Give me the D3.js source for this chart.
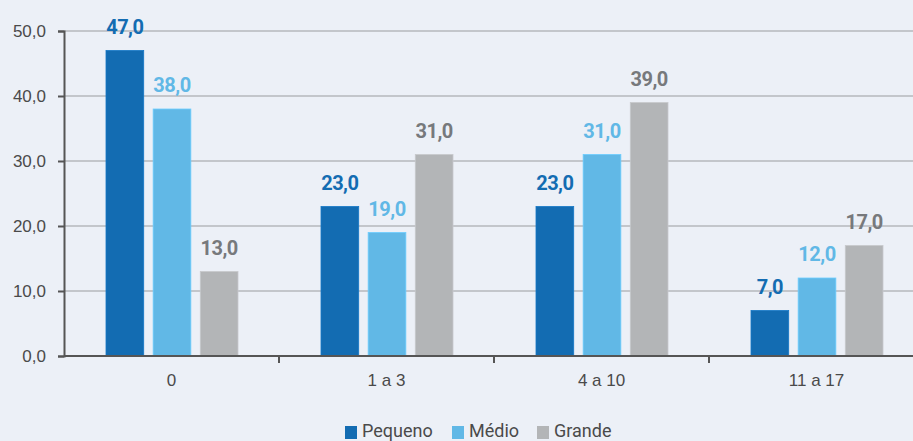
<!DOCTYPE html>
<html><head><meta charset="utf-8">
<script src="https://cdn.jsdelivr.net/npm/d3@7"></script>
<style>
html,body{margin:0;padding:0;background:#ecf0f7;}
svg{display:block;font-family:"Roboto","DejaVu Sans",sans-serif;}
</style></head><body>
<svg id="c" width="913" height="441"></svg>
<script>
const categories = ["0", "1 a 3", "4 a 10", "11 a 17"];
const seriesNames = ["Pequeno", "Médio", "Grande"];
const pequeno = [47, 23, 23, 7];
const medio = [38, 19, 31, 12];
const grande = [13, 31, 39, 17];
const yTicks = [0, 10, 20, 30, 40, 50];
const colors = ["#136cb2", "#61b8e6", "#b3b5b7"];
const labelColors = ["#136cb2", "#61b8e6", "#77797c"];

const seriesValues = [pequeno, medio, grande];
const svg = d3.select("#c");
const x0 = d3.scaleBand().domain(categories).range([64, 924]).paddingInner(0).paddingOuter(0);
const x1 = d3.scaleBand().domain(seriesNames).range([42, 174]).paddingInner(0.2);
const y = d3.scaleLinear().domain([0, 50]).range([356, 31]);
const fmt = v => d3.format(".1f")(v).replace(".", ",");

// gridlines
svg.append("g").selectAll("line").data(yTicks.filter(d => d > 0)).join("line")
  .attr("x1", 64).attr("x2", 913).attr("y1", d => y(d)).attr("y2", d => y(d))
  .attr("stroke", "#9a9c9f").attr("stroke-width", 1);

// bars
const g = svg.append("g");
categories.forEach((c, ci) => {
  seriesNames.forEach((s, si) => {
    const v = seriesValues[si][ci];
    g.append("rect")
      .attr("x", x0(c) + x1(s)).attr("width", x1.bandwidth())
      .attr("y", y(v)).attr("height", y(0) - y(v))
      .attr("fill", colors[si]).attr("stroke", d3.color(colors[si]).brighter(0.3)).attr("stroke-width", 0.8);
    g.append("text")
      .attr("x", x0(c) + x1(s) + x1.bandwidth() / 2).attr("y", y(v) - 17)
      .attr("text-anchor", "middle").attr("font-size", 20).attr("font-weight", "bold")
      .attr("letter-spacing", -0.5)
      .attr("fill", labelColors[si]).text(fmt(v));
  });
});

// y axis
const yAxis = d3.axisLeft(y).tickValues(yTicks).tickFormat(fmt).tickSize(6).tickPadding(12);
const ya = svg.append("g").attr("transform", "translate(64,0)").call(yAxis);
ya.select(".domain").attr("stroke", "#555").attr("stroke-width", 2);
ya.selectAll(".tick line").attr("stroke", "#555").attr("stroke-width", 2);
ya.selectAll(".tick text").attr("font-size", 17).attr("fill", "#4a4a4a").attr("font-family", null);

// x axis
const xa = svg.append("g").attr("transform", "translate(0,356)")
  .call(d3.axisBottom(x0).tickSize(0).tickPadding(18));
xa.select(".domain").remove();
xa.append("line").attr("x1", 64).attr("x2", 913).attr("stroke", "#555").attr("stroke-width", 2);
xa.selectAll(".tick text").attr("font-size", 17).attr("fill", "#4a4a4a").attr("font-family", null);
xa.selectAll(".sep").data(categories.slice(1)).join("line").attr("class", "sep")
  .attr("x1", d => x0(d)).attr("x2", d => x0(d)).attr("y1", 0).attr("y2", 7)
  .attr("stroke", "#555").attr("stroke-width", 2);

// legend
const legendX = [345, 452, 537];
const lg = svg.append("g");
seriesNames.forEach((s, i) => {
  lg.append("rect").attr("x", legendX[i]).attr("y", 426).attr("width", 12).attr("height", 13).attr("fill", colors[i]);
  lg.append("text").attr("x", legendX[i] + 17).attr("y", 437).attr("font-size", 18)
    .attr("fill", "#4a4a4a").text(s);
});
</script></body></html>
